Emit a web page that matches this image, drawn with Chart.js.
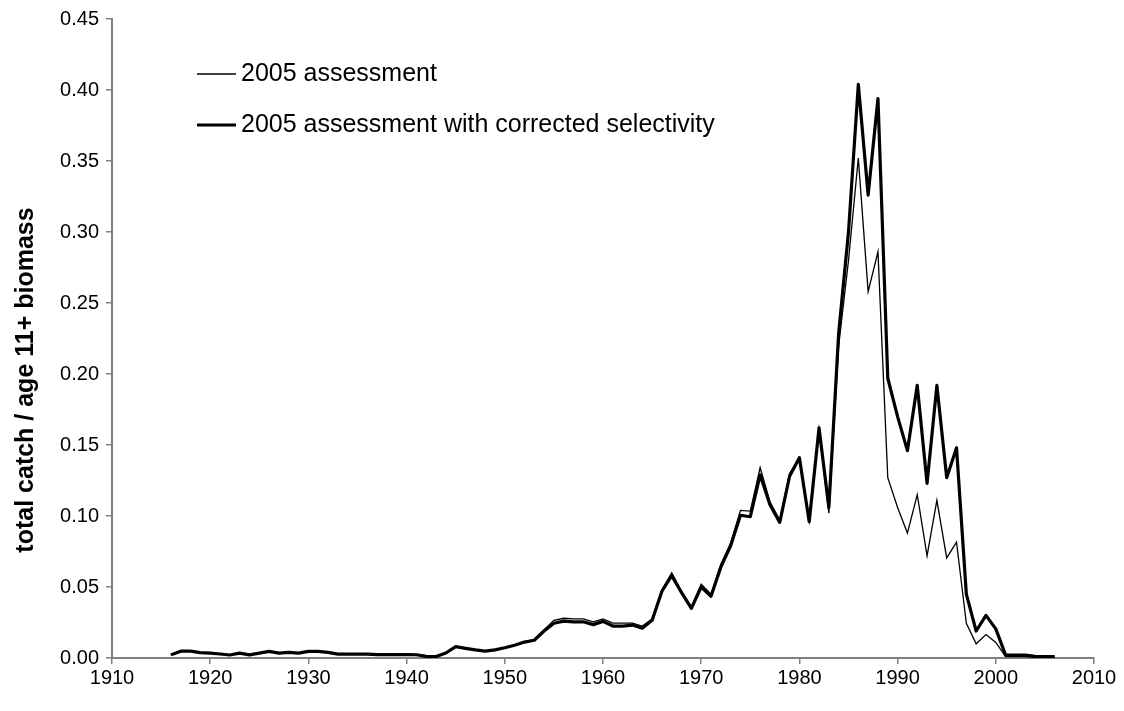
<!DOCTYPE html>
<html>
<head>
<meta charset="utf-8">
<script src="https://cdn.jsdelivr.net/npm/chart.js@4.4.1/dist/chart.umd.min.js"></script>
<style>
  html, body { margin: 0; padding: 0; background: #ffffff; }
  #wrap { width: 1124px; height: 711px; }
</style>
</head>
<body>
<div id="wrap"><canvas id="c" width="1124" height="711"></canvas></div>
<script>
// ---- data ----
const years = [
  1916,1917,1918,1919,1920,1921,1922,1923,1924,1925,
  1926,1927,1928,1929,1930,1931,1932,1933,1934,1935,
  1936,1937,1938,1939,1940,1941,1942,1943,1944,1945,
  1946,1947,1948,1949,1950,1951,1952,1953,1954,1955,
  1956,1957,1958,1959,1960,1961,1962,1963,1964,1965,
  1966,1967,1968,1969,1970,1971,1972,1973,1974,1975,
  1976,1977,1978,1979,1980,1981,1982,1983,1984,1985,
  1986,1987,1988,1989,1990,1991,1992,1993,1994,1995,
  1996,1997,1998,1999,2000,2001,2002,2003,2004,2005,2006
];
const assessment2005 = [
  0.0022,0.0048,0.0048,0.0038,0.0034,0.0028,0.0021,0.0034,0.0022,0.0034,
  0.0047,0.0034,0.0039,0.0034,0.0047,0.0046,0.0040,0.0027,0.0027,0.0027,
  0.0027,0.0024,0.0024,0.0024,0.0024,0.0023,0.0012,0.0010,0.0035,0.0080,
  0.0068,0.0057,0.0048,0.0057,0.0074,0.0093,0.0115,0.0130,0.0200,0.0265,
  0.0280,0.0275,0.0275,0.0255,0.0275,0.0245,0.0245,0.0245,0.0225,0.0275,
  0.0480,0.0600,0.0470,0.0360,0.0520,0.0450,0.0660,0.0810,0.1040,0.1035,
  0.1340,0.1100,0.0970,0.1300,0.1410,0.0965,0.1610,0.1020,0.2200,0.2800,
  0.3520,0.2580,0.2860,0.1270,0.1060,0.0880,0.1150,0.0720,0.1110,0.0705,
  0.0815,0.0245,0.0100,0.0165,0.0110,0.0010,0.0010,0.0010,0.0006,0.0005,0.0005
];
const correctedSelectivity = [
  0.0022,0.0048,0.0048,0.0038,0.0034,0.0028,0.0021,0.0034,0.0022,0.0034,
  0.0047,0.0034,0.0039,0.0034,0.0047,0.0046,0.0040,0.0027,0.0027,0.0027,
  0.0027,0.0024,0.0024,0.0024,0.0024,0.0023,0.0012,0.0010,0.0035,0.0080,
  0.0068,0.0057,0.0048,0.0057,0.0072,0.0090,0.0112,0.0125,0.0190,0.0245,
  0.0260,0.0255,0.0255,0.0235,0.0258,0.0225,0.0225,0.0232,0.0210,0.0265,
  0.0470,0.0580,0.0460,0.0350,0.0500,0.0435,0.0640,0.0790,0.1005,0.0995,
  0.1290,0.1080,0.0955,0.1280,0.1410,0.0960,0.1620,0.1060,0.2290,0.3000,
  0.4040,0.3260,0.3940,0.1970,0.1700,0.1460,0.1920,0.1230,0.1920,0.1270,
  0.1480,0.0450,0.0190,0.0300,0.0205,0.0020,0.0020,0.0020,0.0012,0.0010,0.0010
];
const seriesLabels = ['2005 assessment', '2005 assessment with corrected selectivity'];
const yTickValues = [0, 0.05, 0.10, 0.15, 0.20, 0.25, 0.30, 0.35, 0.40, 0.45];
const xTickValues = [1910,1920,1930,1940,1950,1960,1970,1980,1990,2000,2010];
const yTitle = 'total catch / age 11+ biomass';

const FONT = '"Liberation Sans", Arial, sans-serif';
const AXIS = '#808080';

const toPts = (vals) => vals.map((v, i) => ({ x: years[i], y: v }));

const legendPlugin = {
  id: 'insideLegend',
  afterDraw(chart) {
    const ctx = chart.ctx;
    const rows = [
      { ds: chart.data.datasets[1], y: 74 },
      { ds: chart.data.datasets[0], y: 125 }
    ];
    ctx.save();
    ctx.font = '25px ' + FONT;
    ctx.fillStyle = '#000';
    ctx.textBaseline = 'middle';
    rows.forEach(r => {
      ctx.beginPath();
      ctx.strokeStyle = '#000';
      ctx.lineWidth = r.ds.borderWidth;
      ctx.moveTo(197, r.y);
      ctx.lineTo(236, r.y);
      ctx.stroke();
      ctx.fillText(r.ds.label, 241, r.y);
    });
    ctx.restore();
  }
};

const yTitlePlugin = {
  id: 'yTitle',
  afterDraw(chart) {
    const ctx = chart.ctx;
    ctx.save();
    ctx.translate(33, 380);
    ctx.rotate(-Math.PI / 2);
    ctx.font = 'bold 25px ' + FONT;
    ctx.fillStyle = '#000';
    ctx.textAlign = 'center';
    ctx.textBaseline = 'alphabetic';
    ctx.fillText(yTitle, 0, 0);
    ctx.restore();
  }
};

new Chart(document.getElementById('c'), {
  type: 'line',
  data: {
    datasets: [
      {
        label: seriesLabels[1],
        data: toPts(correctedSelectivity),
        borderColor: '#000',
        borderWidth: 3.2,
        pointRadius: 0,
        tension: 0,
        fill: false,
        borderJoinStyle: 'round'
      },
      {
        label: seriesLabels[0],
        data: toPts(assessment2005),
        borderColor: '#000',
        borderWidth: 1.3,
        pointRadius: 0,
        tension: 0,
        fill: false
      }
    ]
  },
  options: {
    responsive: false,
    animation: false,
    devicePixelRatio: 1,
    layout: { padding: { top: 16, right: 30, left: 0, bottom: 0 } },
    plugins: { legend: { display: false }, tooltip: { enabled: false } },
    scales: {
      x: {
        type: 'linear',
        min: 1910, max: 2010,
        afterFit(s) { s.height = 53; },
        afterBuildTicks(s) { s.ticks = xTickValues.map(v => ({ value: v })); },
        ticks: { color: '#000', font: { family: FONT, size: 20 }, padding: 2, maxRotation: 0,
                 callback: v => String(v) },
        grid: { drawOnChartArea: false, drawTicks: true, tickLength: 6, color: AXIS, lineWidth: 1.5 },
        border: { color: AXIS, width: 2 }
      },
      y: {
        min: 0, max: 0.45,
        afterFit(s) { s.width = 112; },
        afterBuildTicks(s) { s.ticks = yTickValues.map(v => ({ value: v })); },
        ticks: { color: '#000', font: { family: FONT, size: 20 }, padding: 7,
                 callback: v => Number(v).toFixed(2) },
        grid: { drawOnChartArea: false, drawTicks: true, tickLength: 6, color: AXIS, lineWidth: 1.5 },
        border: { color: AXIS, width: 2 },
        title: { display: false }
      }
    }
  },
  plugins: [legendPlugin, yTitlePlugin]
});
</script>
</body>
</html>
